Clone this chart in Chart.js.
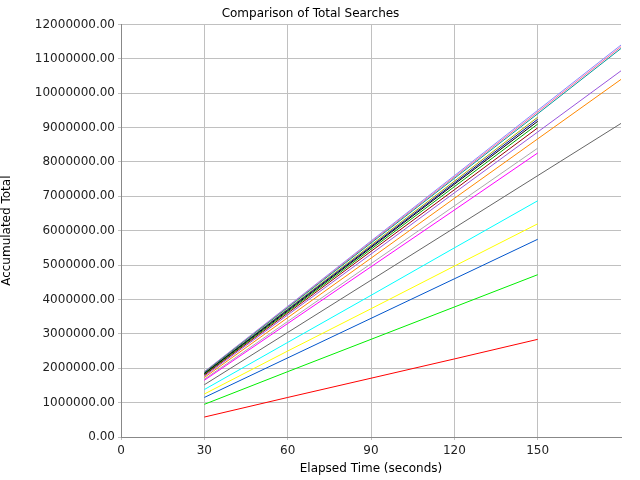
<!DOCTYPE html>
<html><head><style>body{margin:0;background:#fff}</style>
<script src="https://cdn.jsdelivr.net/npm/chart.js@4"></script></head>
<body><div style="width:640px;height:480px"><canvas id="c"></canvas></div>
<script>
const times = [30, 60, 90, 120, 150, 180];
const seriesColors = ['#ff0000','#00ee00','#0055cc','#ffff00','#00ffff','#666666','#ff00ff','#aaaaaa','#ff8800','#9955dd','#990000','#00aa00','#000000','#000099','#aaaa00','#009999','#ff6699','#8888ff'];
const seriesValues = [
 [0.58,1.15,1.71,2.27,2.84],
 [0.95,1.9,2.84,3.78,4.72],
 [1.15,2.3,3.45,4.6,5.75],
 [1.25,2.5,3.73,4.97,6.2],
 [1.38,2.75,4.12,5.5,6.87],
 [1.52,3.04,4.56,6.08,7.6,9.12],
 [1.65,3.3,4.95,6.6,8.26],
 [1.68,3.36,5.04,6.72,8.4],
 [1.73,3.47,5.2,6.94,8.67,10.4],
 [1.77,3.55,5.32,7.1,8.87,10.65],
 [1.8,3.6,5.4,7.19,8.99],
 [1.82,3.64,5.46,7.28,9.1],
 [1.84,3.67,5.51,7.35,9.18],
 [1.85,3.7,5.54,7.39,9.24],
 [1.86,3.72,5.58,7.44,9.3],
 [1.88,3.76,5.64,7.52,9.4,11.3],
 [1.89,3.78,5.67,7.56,9.45,11.35],
 [1.9,3.8,5.7,7.6,9.5,11.4]
];
const datasets = seriesValues.map((v,i)=>({
  data: v.map((y,j)=>({x:times[j], y:y*1e6})),
  borderColor: seriesColors[i], borderWidth:1, pointRadius:0, fill:false, tension:0
}));
const f = {family:'"DejaVu Sans", sans-serif', size:12};
new Chart(document.getElementById('c'), {
  type:'line', data:{datasets},
  options:{responsive:true, maintainAspectRatio:false, animation:false,
    layout:{padding:{top:1,right:19,left:0,bottom:0}},
    plugins:{legend:{display:false}, tooltip:{enabled:false},
      title:{display:true,text:'Comparison of Total Searches',color:'#000',font:{...f,weight:'normal'},padding:{top:6,bottom:3}}},
    scales:{
      x:{type:'linear',min:0,max:180,
        afterBuildTicks:s=>{s.ticks=[0,30,60,90,120,150].map(v=>({value:v}));},
        ticks:{color:'#222',font:f,padding:4},
        grid:{color:'#c0c0c0',drawTicks:true,tickLength:3},
        border:{color:'#888'},
        title:{display:true,text:'Elapsed Time (seconds)',color:'#000',font:f,padding:{top:2,bottom:4}},
        afterFit:s=>{s.height=43;}},
      y:{min:0,max:12e6,
        ticks:{stepSize:1e6,color:'#222',font:f,callback:v=>v.toFixed(2)},
        grid:{color:'#c0c0c0',tickLength:3},
        border:{color:'#888'},
        title:{display:true,text:'Accumulated Total',color:'#000',font:f,padding:{top:0,bottom:2}},
        afterFit:s=>{s.width=121;}}
    }}
});
</script></body></html>
